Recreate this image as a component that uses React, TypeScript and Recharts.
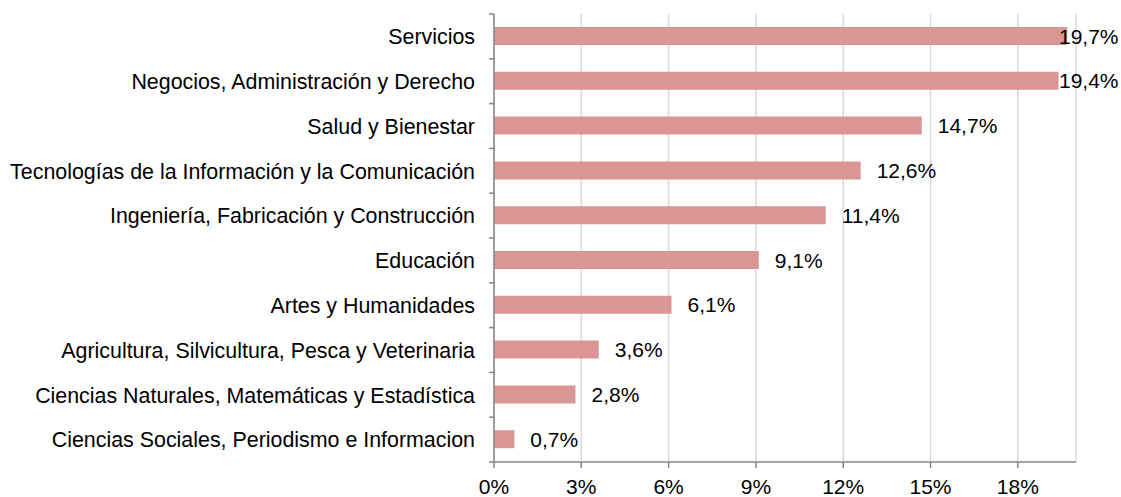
import React from 'react';
import {
  BarChart,
  Bar,
  XAxis,
  YAxis,
  CartesianGrid,
  LabelList,
} from 'recharts';

const categories = [
  'Servicios',
  'Negocios, Administración y Derecho',
  'Salud y Bienestar',
  'Tecnologías de la Información y la Comunicación',
  'Ingeniería, Fabricación y Construcción',
  'Educación',
  'Artes y Humanidades',
  'Agricultura, Silvicultura, Pesca y Veterinaria',
  'Ciencias Naturales, Matemáticas y Estadística',
  'Ciencias Sociales, Periodismo e Informacion',
];

const shares = [19.7, 19.4, 14.7, 12.6, 11.4, 9.1, 6.1, 3.6, 2.8, 0.7];

const xTicks = [0, 3, 6, 9, 12, 15, 18];

const data = categories.map((name, i) => ({ name, value: shares[i] }));

const FONT = '"Liberation Sans", Arial, sans-serif';
const AXIS_COLOR = '#868686';
const BAND = 44.8;

// category tick: label plus a tick mark on the band boundary
function CategoryTick(props: any) {
  const { x, y, payload, index } = props;
  return (
    <g>
      <line x1={x + 3} x2={x + 8} y1={y - BAND / 2} y2={y - BAND / 2} stroke={AXIS_COLOR} strokeWidth={1.5} />
      {index === categories.length - 1 && (
        <line x1={x + 3} x2={x + 8} y1={y + BAND / 2} y2={y + BAND / 2} stroke={AXIS_COLOR} strokeWidth={1.5} />
      )}
      <text x={x - 11} y={y} dy="0.36em" textAnchor="end" fill="#000" fontSize={21.4} fontFamily={FONT}>
        {payload.value}
      </text>
    </g>
  );
}

// value label placed after the bar end, kept inside the chart
function ValueLabel(props: any) {
  const { x, y, width, height, value } = props;
  const lx = Math.min(x + width + 16, 1059);
  return (
    <text x={lx} y={y + height / 2} dy="0.36em" fill="#000" fontSize={21} fontFamily={FONT}>
      {String(value).replace('.', ',') + '%'}
    </text>
  );
}

export default function App() {
  return (
    <div style={{ position: 'absolute', left: 0, top: 0, background: '#fff' }}>
      <BarChart
        width={1121}
        height={497}
        data={data}
        layout="vertical"
        margin={{ top: 14, right: 45, bottom: 0, left: 0 }}
      >
        <CartesianGrid horizontal={false} stroke="#D9D9D9" strokeWidth={1.5} />
        <XAxis
          type="number"
          domain={[0, 20]}
          ticks={xTicks}
          allowDataOverflow
          tickFormatter={(v: number) => `${v}%`}
          stroke={AXIS_COLOR}
          strokeWidth={1.5}
          tickSize={6}
          tick={{ fill: '#000', fontSize: 21, fontFamily: FONT }}
          tickMargin={11}
          height={35}
        />
        <YAxis
          type="category"
          dataKey="name"
          width={494}
          stroke={AXIS_COLOR}
          strokeWidth={1.5}
          tickLine={false}
          tick={<CategoryTick />}
          interval={0}
        />
        <Bar dataKey="value" fill="#D99694" barSize={18} isAnimationActive={false}>
          <LabelList dataKey="value" content={<ValueLabel />} />
        </Bar>
      </BarChart>
    </div>
  );
}
